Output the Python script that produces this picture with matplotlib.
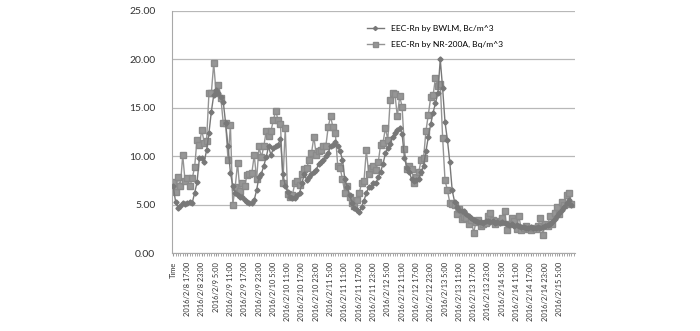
import numpy as np
import matplotlib
matplotlib.use("Agg")
import matplotlib.pyplot as plt

plt.rcParams['font.family'] = ['Lato', 'DejaVu Sans']

# hourly samples, first category is the "Time" header cell
bwlm = [6.9, 5.3, 4.7, 4.9, 5.2, 5.1, 5.2, 5.3, 5.2, 6.2,
        7.3, 9.8, 9.8, 9.4, 10.6, 12.4, 14.6, 16.3, 16.8, 16.5,
        16.1, 15.6, 13.4, 11.0, 8.3, 6.9, 6.2, 6.0, 5.8, 5.8,
        5.5, 5.3, 5.2, 5.2, 5.5, 6.5, 7.9, 8.2, 9.0, 9.9,
        11.0, 10.1, 10.8, 11.0, 11.2, 11.8, 8.2, 6.9, 6.3, 5.8,
        5.7, 5.7, 6.0, 6.2, 7.2, 8.2, 7.5, 7.9, 8.2, 8.4,
        8.6, 9.2, 9.4, 9.6, 10.0, 10.3, 11.0, 11.2, 11.5, 11.0,
        10.5, 9.6, 7.6, 6.8, 6.0, 5.2, 4.6, 4.4, 4.2, 4.8,
        5.4, 6.2, 6.8, 6.8, 7.2, 7.2, 7.8, 8.4, 9.2, 10.3,
        10.8, 11.3, 12.0, 12.4, 12.7, 12.9, 12.3, 9.8, 8.8, 8.4,
        7.6, 7.4, 7.5, 7.6, 8.4, 9.0, 10.5, 12.0, 13.3, 14.5,
        15.5, 16.5, 20.0, 17.0, 13.5, 11.7, 9.4, 6.5, 5.3, 4.8,
        4.4, 4.3, 4.3, 4.0, 3.8, 3.6, 3.4, 3.3, 3.2, 3.2,
        3.1, 3.3, 3.3, 3.2, 3.3, 3.1, 3.2, 3.1, 3.2, 3.1,
        3.0, 2.9, 3.0, 2.8, 2.9, 2.8, 2.7, 2.7, 2.6, 2.6,
        2.7, 2.6, 2.6, 2.7, 2.6, 2.7, 2.8, 2.9, 3.0, 3.2,
        3.5, 3.8, 4.1, 4.4, 4.8, 5.2, 5.5, 5.0]

nr200a = [7.3, 6.3, 7.8, 6.9, 10.1, 7.4, 7.7, 6.9, 7.7, 8.9,
          11.7, 11.2, 12.7, 11.4, 11.6, 16.5, 16.5, 19.6, 16.5, 17.4,
          16.0, 13.4, 13.4, 9.6, 13.2, 5.0, 6.8, 9.3, 6.4, 7.2,
          6.9, 8.1, 8.2, 8.3, 10.1, 7.6, 11.0, 9.9, 11.0, 12.6,
          12.1, 12.6, 13.7, 14.7, 13.7, 13.3, 7.2, 12.9, 6.1, 5.8,
          6.0, 7.2, 7.4, 7.0, 8.2, 8.7, 8.8, 9.6, 10.3, 12.0,
          10.1, 10.5, 10.6, 11.0, 11.0, 13.0, 14.1, 13.0, 12.4, 9.0,
          8.8, 7.6, 6.2, 6.9, 5.8, 5.2, 4.9, 5.5, 6.2, 7.2,
          7.4, 10.6, 8.2, 8.8, 9.0, 8.6, 9.4, 11.2, 11.4, 12.9,
          11.7, 15.8, 16.5, 16.4, 14.1, 16.2, 15.1, 10.7, 8.7, 9.0,
          8.7, 7.2, 7.9, 8.4, 9.6, 9.8, 12.6, 14.3, 16.1, 16.3,
          18.1, 17.2, 17.5, 11.9, 7.5, 6.5, 5.2, 5.1, 5.0, 4.0,
          4.5, 3.5, 3.7, 3.6, 3.0, 3.4, 2.1, 3.2, 3.4, 2.8,
          3.0, 3.1, 3.8, 4.1, 3.4, 3.0, 3.3, 3.2, 3.6, 4.3,
          2.4, 3.0, 3.6, 3.3, 2.5, 3.8, 2.4, 2.6, 2.8, 2.5,
          2.4, 2.6, 2.5, 2.8, 3.6, 1.9, 3.0, 2.8, 3.8, 3.0,
          4.1, 4.8, 4.0, 5.3, 5.0, 6.0, 6.2, 5.1]

tick_labels = ["Time", "2016/2/8 17:00", "2016/2/8 23:00",
               "2016/2/9 5:00", "2016/2/9 11:00", "2016/2/9 17:00", "2016/2/9 23:00",
               "2016/2/10 5:00", "2016/2/10 11:00", "2016/2/10 17:00", "2016/2/10 23:00",
               "2016/2/11 5:00", "2016/2/11 11:00", "2016/2/11 17:00", "2016/2/11 23:00",
               "2016/2/12 5:00", "2016/2/12 11:00", "2016/2/12 17:00", "2016/2/12 23:00",
               "2016/2/13 5:00", "2016/2/13 11:00", "2016/2/13 17:00", "2016/2/13 23:00",
               "2016/2/14 5:00", "2016/2/14 11:00", "2016/2/14 17:00", "2016/2/14 23:00",
               "2016/2/15 5:00"]
n_cat = 169

x = np.arange(len(bwlm))

fig = plt.figure(figsize=(7, 3.31), dpi=100)
ax = fig.add_axes([0.2457, 0.2356, 0.5757, 0.7314])

ax.plot(x, nr200a, color='#949494', lw=1.0, marker='s', ms=4.5,
        mfc='#969696', mec='#8a8a8a', label='EEC-Rn by NR-200A, Bq/m^3', zorder=2)
ax.plot(x, bwlm, color='#787878', lw=1.0, marker='D', ms=2.6,
        mfc='#787878', mec='#787878', label='EEC-Rn by BWLM, Bc/m^3', zorder=3)

ax.set_ylim(0, 25)
ax.set_xlim(-0.5, n_cat - 0.5)
ax.set_yticks(np.arange(0, 26, 5))
ax.set_yticklabels(['%.2f' % v for v in np.arange(0, 26, 5)], fontsize=7.5, color='#333333')
ax.yaxis.grid(True, color='#b8b8b8', lw=0.9)
ax.set_axisbelow(True)

ax.set_xticks(np.arange(0, 6 * len(tick_labels), 6))
ax.set_xticklabels(tick_labels, rotation=90, fontsize=5.4, color='#333333')
ax.set_xticks(np.arange(n_cat), minor=True)
ax.tick_params(axis='x', which='both', length=2.5, color='#999999', pad=4)
ax.tick_params(axis='y', length=0, pad=12)

for s in ['top', 'right']:
    ax.spines[s].set_visible(False)
ax.spines['left'].set_color('#a8a8a8')
ax.spines['bottom'].set_color('#a8a8a8')

h, l = ax.get_legend_handles_labels()
ax.legend(h[::-1], l[::-1], loc='upper left', bbox_to_anchor=(0.465, 0.975),
          frameon=False, fontsize=6.1, handlelength=2.0, labelspacing=1.1,
          markerscale=0.8)

fig.savefig('out.png', dpi=100)
